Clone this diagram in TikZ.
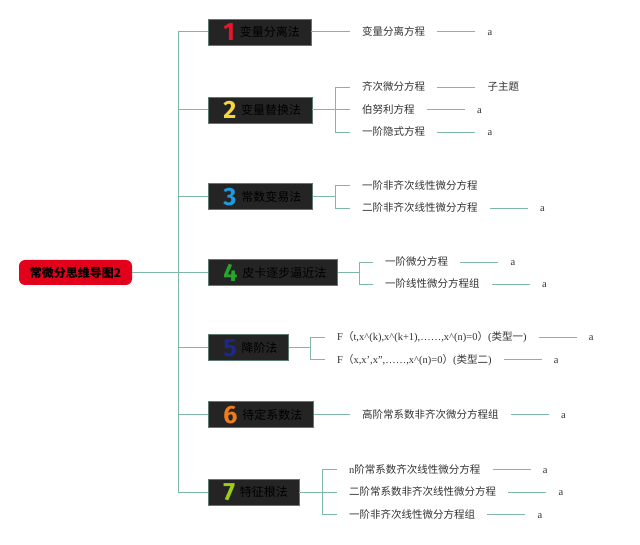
\documentclass[tikz,border=0pt]{standalone}
\usepackage{fontspec}
\setmainfont{Liberation Serif}
\newfontfamily\cjk{Noto Sans CJK SC}
\newfontfamily\numfont{Fira Sans}
\usetikzlibrary{positioning}
\definecolor{wirecol}{RGB}{128,184,168}
\definecolor{rootred}{RGB}{226,0,26}
\definecolor{boxgray}{RGB}{36,36,36}
\definecolor{boxedge}{RGB}{92,122,114}
\definecolor{subgray}{RGB}{50,50,50}
\definecolor{n1}{RGB}{232,22,42}
\definecolor{n2}{RGB}{246,214,60}
\definecolor{n3}{RGB}{30,155,224}
\definecolor{n4}{RGB}{40,165,45}
\definecolor{n5}{RGB}{28,40,140}
\definecolor{n6}{RGB}{240,124,26}
\definecolor{n7}{RGB}{156,204,26}
\newcommand{\methlabel}[3]{\kern15pt\raisebox{-4pt}[0pt][0pt]{\numfont\bfseries\fontsize{25}{25}\selectfont\textcolor{#1}{#2}}\kern5pt#3\kern11pt}
\begin{document}
\begin{tikzpicture}[x=1pt, y=-1pt,
  wire/.style={draw=wirecol, line width=1pt},
  root/.style={fill=rootred, rounded corners=6pt, minimum width=113pt, minimum height=25pt, inner sep=0pt, font=\cjk\bfseries\fontsize{12}{14}\selectfont},
  method/.style={fill=boxgray, draw=boxedge, line width=0.5pt, anchor=west, minimum height=26pt, inner sep=0pt, font=\cjk\fontsize{12}{14}\selectfont, text=black},
  sub/.style={anchor=west, inner xsep=12pt, inner ysep=2pt, text height=9pt, text depth=2pt, text=subgray, font=\cjk\fontsize{10.5}{12}\selectfont},
  leaf/.style={inner xsep=12pt, inner ysep=2pt, text height=9pt, text depth=2pt, text=subgray, font=\rmfamily\fontsize{10.5}{12}\selectfont}]
\useasboundingbox (0,0) rectangle (640,545);
% root and trunk
\node[root] (map) at (75.5,272.5) {常微分思维导图2};
\coordinate (hub) at (178,272.5);
\draw[wire] (map) -- (hub);
\node[method] (m1) at (208,32) {\methlabel{n1}{1}{变量分离法}};
\node[method] (m2) at (208,110) {\methlabel{n2}{2}{变量替换法}};
\node[method] (m3) at (208,196.5) {\methlabel{n3}{3}{常数变易法}};
\node[method] (m4) at (208,272.5) {\methlabel{n4}{4}{皮卡逐步逼近法}};
\node[method] (m5) at (208,347.5) {\methlabel{n5}{5}{降阶法}};
\node[method] (m6) at (208,414.5) {\methlabel{n6}{6}{待定系数法}};
\node[method] (m7) at (208,492) {\methlabel{n7}{7}{特征根法}};
\foreach \m in {1,...,7} \draw[wire] (hub) |- (m\m);
% 1
\node[sub] (s11) at (350,32) {变量分离方程}; \draw[wire] (m1) -- (s11);
\node[leaf, right=38pt of s11] (a11) {a}; \draw[wire] (s11) -- (a11);
% 2
\coordinate (k2) at (335,110); \draw[wire] (m2) -- (k2);
\node[sub] (s21) at (350,87.5) {齐次微分方程};
\node[sub] (s22) at (350,110) {伯努利方程};
\node[sub] (s23) at (350,132.5) {一阶隐式方程};
\foreach \s in {1,2,3} \draw[wire] (k2) |- (s2\s);
\node[leaf, font=\cjk\fontsize{10.5}{12}\selectfont, right=38pt of s21] (a21) {子主题}; \draw[wire] (s21) -- (a21);
\node[leaf, right=38pt of s22] (a22) {a}; \draw[wire] (s22) -- (a22);
\node[leaf, right=38pt of s23] (a23) {a}; \draw[wire] (s23) -- (a23);
% 3
\coordinate (k3) at (335,196.5); \draw[wire] (m3) -- (k3);
\node[sub] (s31) at (350,186) {一阶非齐次线性微分方程};
\node[sub] (s32) at (350,208.5) {二阶非齐次线性微分方程};
\foreach \s in {1,2} \draw[wire] (k3) |- (s3\s);
\node[leaf, right=38pt of s32] (a32) {a}; \draw[wire] (s32) -- (a32);
% 4
\coordinate (k4) at (359,272.5); \draw[wire] (m4) -- (k4);
\node[sub] (s41) at (373,262.5) {一阶微分方程};
\node[sub] (s42) at (373,284.5) {一阶线性微分方程组};
\foreach \s in {1,2} \draw[wire] (k4) |- (s4\s);
\node[leaf, right=38pt of s41] (a41) {a}; \draw[wire] (s41) -- (a41);
\node[leaf, right=38pt of s42] (a42) {a}; \draw[wire] (s42) -- (a42);
% 5
\coordinate (k5) at (310,347.5); \draw[wire] (m5) -- (k5);
\node[sub] (s51) at (325,337.5) {{\rmfamily F}（{\rmfamily t,x\textasciicircum(k),x\textasciicircum(k+1),……,x\textasciicircum(n)=0}）{\rmfamily (}类型一{\rmfamily )}};
\node[sub] (s52) at (325,359.5) {{\rmfamily F}（{\rmfamily x,x',x'',……,x\textasciicircum(n)=0}）{\rmfamily (}类型二{\rmfamily )}};
\foreach \s in {1,2} \draw[wire] (k5) |- (s5\s);
\node[leaf, right=38pt of s51] (a51) {a}; \draw[wire] (s51) -- (a51);
\node[leaf, right=38pt of s52] (a52) {a}; \draw[wire] (s52) -- (a52);
% 6
\node[sub] (s61) at (350,414.5) {高阶常系数非齐次微分方程组}; \draw[wire] (m6) -- (s61);
\node[leaf, right=38pt of s61] (a61) {a}; \draw[wire] (s61) -- (a61);
% 7
\coordinate (k7) at (322,492); \draw[wire] (m7) -- (k7);
\node[sub] (s71) at (337,469.5) {{\rmfamily n}阶常系数齐次线性微分方程};
\node[sub] (s72) at (337,492) {二阶常系数非齐次线性微分方程};
\node[sub] (s73) at (337,514.5) {一阶非齐次线性微分方程组};
\foreach \s in {1,2,3} \draw[wire] (k7) |- (s7\s);
\node[leaf, right=38pt of s71] (a71) {a}; \draw[wire] (s71) -- (a71);
\node[leaf, right=38pt of s72] (a72) {a}; \draw[wire] (s72) -- (a72);
\node[leaf, right=38pt of s73] (a73) {a}; \draw[wire] (s73) -- (a73);
\end{tikzpicture}
\end{document}
